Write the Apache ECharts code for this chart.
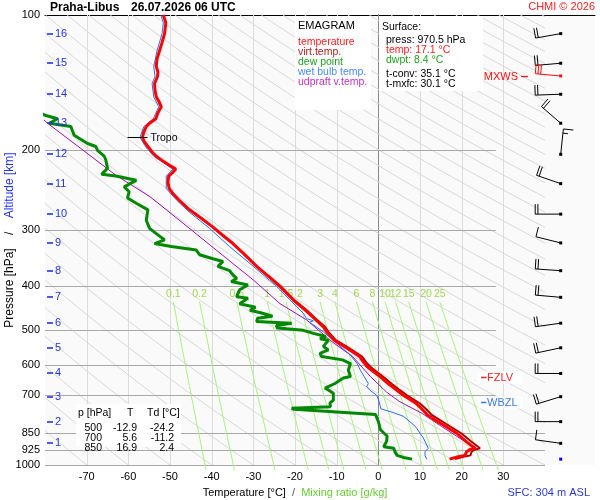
<!DOCTYPE html>
<html><head><meta charset="utf-8">
<script src="https://cdn.jsdelivr.net/npm/echarts@6/dist/echarts.min.js"></script>
<style>html,body{margin:0;padding:0;background:#fff}#c{width:600px;height:500px}</style>
</head><body><div id="c"></div>
<script>
// ---------- axis ticks ----------
const PRESSURE_TICKS = [100, 200, 300, 400, 500, 600, 700, 850, 925, 1000];
const TEMP_TICKS = [-70, -60, -50, -40, -30, -20, -10, 0, 10, 20, 30];
// ---------- altitude marks (km) and their pressure ----------
const ALT_KM = [1, 2, 3, 4, 5, 6, 7, 8, 9, 10, 11, 12, 13, 14, 15, 16];
const ALT_P = [895, 801, 705, 626, 549, 484, 424, 370, 321, 277, 237, 204, 174, 150, 128, 110];
// ---------- winds at each km ----------
const WIND_DIR = [278, 270, 253, 270, 258, 262, 275, 274, 284, 270, 289, 6, 311, 268, 265, 260];
const WIND_KT = [10, 20, 20, 20, 20, 20, 20, 20, 10, 20, 20, 15, 20, 20, 20, 20];
const MXWS_P = 136.6, MXWS_DIR = 275, MXWS_KT = 30;
const SFC_P = 970.5;
// ---------- reference lines ----------
const MIX_RATIOS = [0.1, 0.2, 0.5, 1, 1.5, 2, 3, 4, 6, 8, 10, 12, 15, 20, 25];
const DRY_ADIABATS = [-80, -70, -60, -50, -40, -30, -20, -10, 0, 10, 20, 30, 40, 50, 60, 70, 80, 90, 100,
  110, 120, 130, 140, 150, 160, 170, 180, 190, 200, 210, 220, 230, 240, 250, 260, 270, 280, 290, 300, 310, 320, 330, 340];
// ---------- sounding profiles [pressure hPa, °C] ----------
const TEMP = [[100,-51.6],[104,-51.0],[110,-51.3],[115,-51.9],[120,-52.5],[125,-53.1],[130,-53.3],[134,-52.9],[137,-53.0],
  [142,-53.7],[147,-53.6],[152,-53.3],[156,-52.6],[160,-52.1],[165,-52.9],[170,-53.4],[174,-54.9],[177,-55.7],[182,-56.3],
  [187,-56.6],[191,-56.2],[196,-55.3],[201,-54.4],[206,-53.3],[212,-51.4],[217,-49.7],[220,-48.6],[224,-49.4],[228,-50.3],
  [235,-50.5],[243,-50.2],[250,-49.2],[258,-47.8],[271,-45.3],[283,-42.5],[296,-39.7],[309,-37.3],[322,-34.9],[340,-32.2],
  [362,-29.2],[380,-26.5],[401,-23.6],[430,-20.4],[452,-17.6],[475,-15.1],[493,-13.2],[506,-12.4],[528,-10.6],[550,-7.5],
  [574,-4.5],[590,-3.6],[604,-2.7],[620,-1.2],[636,0.4],[660,2.4],[681,4.3],[700,6.0],[729,9.0],[750,10.4],[774,11.8],
  [795,13.7],[815,15.6],[850,18.8],[887,21.1],[918,23.2],[925,21.9],[934,21.2],[952,20.8],[960,18.9],[970.5,17.1]];
const VIRT_TEMP = [[380,-26.3],[401,-23.4],[430,-20.2],[452,-17.3],[475,-14.8],[493,-12.8],[506,-12.0],[528,-10.2],[550,-7.0],
  [574,-3.9],[590,-3.0],[604,-2.0],[620,-0.5],[636,1.1],[660,3.2],[681,5.1],[700,6.9],[729,9.9],[750,11.4],[774,12.8],
  [795,14.8],[815,16.7],[850,19.9],[887,22.3],[918,24.4],[925,23.1],[934,22.4],[952,22.1],[960,20.2],[970.5,18.4]];
const DEW_POINT = [[160,-84.0],[167,-80.0],[170,-77.0],[174,-79.0],[177,-73.8],[181,-73.4],[185,-73.0],[193,-69.8],[196,-67.8],
  [200,-67.4],[206,-65.8],[210,-65.4],[219,-65.0],[222,-65.6],[226,-66.4],[228,-63.0],[233,-58.1],[241,-61.0],[247,-59.8],
  [255,-60.2],[262,-58.1],[271,-55.3],[286,-55.7],[298,-54.9],[306,-53.3],[316,-51.3],[322,-53.7],[327,-49.7],[333,-43.7],
  [341,-42.9],[348,-39.7],[353,-37.3],[362,-38.5],[370,-35.7],[378,-34.9],[385,-34.0],[391,-35.3],[398,-31.3],[408,-33.3],
  [416,-33.7],[423,-34.0],[426,-31.3],[438,-33.3],[446,-29.5],[453,-30.8],[460,-27.8],[467,-25.4],[472,-29.0],[480,-29.2],
  [484,-20.8],[490,-24.5],[496,-24.2],[502,-18.0],[510,-15.6],[518,-12.6],[524,-14.0],[528,-12.0],[545,-13.2],[555,-12.0],
  [565,-14.0],[574,-13.6],[584,-8.6],[595,-6.7],[616,-7.2],[636,-6.7],[641,-8.4],[659,-10.4],[675,-12.8],[681,-12.0],
  [693,-10.8],[718,-10.8],[728,-11.6],[742,-11.5],[748,-20.8],[752,-20.2],[772,-0.7],[800,0.0],[835,0.5],[862,2.1],
  [885,2.0],[911,1.3],[918,3.7],[935,4.0],[952,4.5],[962,6.0],[970.5,8.1]];
const WET_BULB = [[100,-52.2],[104,-51.6],[110,-51.9],[120,-53.1],[130,-53.9],[137,-53.6],[142,-54.3],[152,-53.9],[160,-52.7],
  [170,-54.0],[177,-56.3],[187,-57.2],[196,-55.9],[206,-53.9],[217,-50.3],[220,-49.3],[228,-50.9],[243,-50.9],[258,-48.4],
  [274,-45.4],[298,-40.5],[327,-35.7],[362,-30.0],[388,-26.2],[401,-24.4],[429,-21.3],[460,-18.0],[473,-17.2],[478,-15.6],
  [482,-16.6],[488,-15.6],[506,-13.2],[536,-10.0],[570,-6.7],[595,-5.1],[616,-4.3],[659,-2.4],[670,-2.8],[681,-2.1],
  [700,-0.4],[723,0.2],[750,0.6],[766,3.8],[780,6.1],[821,8.9],[871,10.8],[918,12.0],[934,11.2],[952,11.2],[970.5,11.6]];
const PARCEL = [[140,-90.0],[174,-79.4],[198,-71.4],[227,-63.0],[253,-54.9],[290,-46.9],[333,-38.9],[388,-30.0],[438,-23.6],
  [476,-17.2],[528,-11.6],[574,-6.2],[636,-1.9],[689,2.0],[722,5.0],[768,10.5],[821,15.2],[880,20.2],[918,23.6]];
const TROPO = [-56.6, 186.7];
const LEVEL_NAMES = ['FZLV', 'WBZL'];
const LEVEL_P = [636.5, 723];
const TABLE_P = ['500', '700', '850'];
const TABLE_T = ['-12.9', '5.6', '16.9'];
const TABLE_TD = ['-24.2', '-11.2', '2.4'];

// ---------- chart ----------
const FONT = '"Liberation Sans", Arial, sans-serif';
const f = (s, b) => (b ? 'bold ' : '') + s + 'px ' + FONT;
const chart = echarts.init(document.getElementById('c'), null, {renderer: 'canvas', width: 600, height: 500});
const swap = arr => arr.map(d => [d[1], d[0]]);
const BARB_X = 0.314;
const LEVEL_COLORS = ['#ff2020', '#3a7ae8'];

function txt(text, x, y, color, size, bold, align) {
  return {type: 'text', x: x, y: y, z: 60,
    style: {text: text, fill: color || '#000', font: f(size || 10.5, bold), verticalAlign: 'middle', align: align || 'left'}};
}
const graphics = [
  txt('Praha-Libus', 50, 8, '#000', 12, true),
  txt('26.07.2026 06 UTC', 131, 8, '#000', 12, true),
  txt('CHMI © 2026', 595, 7, '#ff2020', 11, false, 'right'),
  txt('SFC: 304 m ASL', 590, 493, '#2a3ae0', 11, false, 'right'),
  {type: 'rect', z: 55, shape: {x: 295, y: 16, width: 76, height: 94}, style: {fill: '#fff'}},
  txt('EMAGRAM', 298, 26, '#000', 11),
  txt('temperature', 298, 41.7, '#ff2020'),
  txt('virt.temp.', 298, 51.7, '#b02020'),
  txt('dew point', 298, 61.7, '#20a020'),
  txt('wet bulb temp.', 298, 71.7, '#4a8af0'),
  txt('udpraft v.temp.', 298, 81.7, '#c030c0'),
  {type: 'rect', z: 55, shape: {x: 379, y: 16, width: 104, height: 75}, style: {fill: '#fff'}},
  txt('Surface:', 382, 27.3),
  txt('press: 970.5 hPa', 386, 40),
  txt('temp: 17.1 °C', 386, 50, '#ff2020'),
  txt('dwpt: 8.4 °C', 386, 60, '#20a020'),
  txt('t-conv: 35.1 °C', 386, 74.3),
  txt('t-mxfc: 30.1 °C', 386, 84.3),
  {type: 'rect', z: 55, shape: {x: 76, y: 404, width: 105, height: 43}, style: {fill: '#fff'}},
  txt('p [hPa]', 78, 413),
  txt('T', 127, 413),
  txt('Td [°C]', 147, 413)
];
TABLE_P.forEach((p, i) => {
  const y = 428 + i * 10;
  graphics.push(txt(p, 102, y, '#000', 10.5, false, 'right'));
  graphics.push(txt(TABLE_T[i], 137, y, '#000', 10.5, false, 'right'));
  graphics.push(txt(TABLE_TD[i], 174, y, '#000', 10.5, false, 'right'));
});

function lineSeries(name, data, color, width, z) {
  return {name: name, type: 'line', xAxisIndex: 0, yAxisIndex: 0, data: swap(data), showSymbol: false, symbol: 'none',
    lineStyle: {color: color, width: width}, silent: true, clip: true, z: z};
}

const option = {
  animation: false,
  backgroundColor: '#fff',
  textStyle: {fontFamily: FONT},
  grid: [
    {left: 45, top: 15, width: 500, height: 450, show: true, backgroundColor: '#fafafa', borderWidth: 0, containLabel: false, outerBoundsMode: 'none'},
    {left: 545, top: 15, width: 50, height: 450, show: true, backgroundColor: '#fafafa', borderWidth: 0, containLabel: false, outerBoundsMode: 'none'}
  ],
  xAxis: [
    {gridIndex: 0, type: 'value', min: -80, max: 40, interval: 10, position: 'bottom',
      axisLine: {show: false}, axisTick: {show: false}, splitLine: {show: false},
      axisLabel: {customValues: TEMP_TICKS, color: '#000', fontSize: 11, margin: 6, fontFamily: FONT},
      name: '{t|Temperature [°C]}  /  {m|Mixing ratio [g/kg]}', nameLocation: 'middle', nameGap: 22,
      nameTextStyle: {fontSize: 11, fontFamily: FONT, rich: {t: {color: '#000', fontSize: 11, fontFamily: FONT}, m: {color: '#66cc33', fontSize: 11, fontFamily: FONT}}}},
    {gridIndex: 0, type: 'value', min: -80, max: 40, position: 'top', axisLine: {show: true, lineStyle: {color: '#000', width: 1}},
      axisTick: {show: false}, axisLabel: {show: false}, splitLine: {show: false}},
    {gridIndex: 1, type: 'value', min: 0, max: 1, position: 'top', axisLine: {show: true, lineStyle: {color: '#000', width: 1}},
      axisTick: {show: false}, axisLabel: {show: false}, splitLine: {show: false}}
  ],
  yAxis: [
    {gridIndex: 0, type: 'log', logBase: 10, min: 100, max: 1000, inverse: true,
      axisLine: {show: true, lineStyle: {color: '#000', width: 1}}, axisTick: {show: false}, splitLine: {show: false},
      axisLabel: {customValues: PRESSURE_TICKS, color: '#000', fontSize: 11, margin: 5, fontFamily: FONT, formatter: v => String(Math.round(v))},
      name: '{p|Pressure [hPa]}    /    {a|Altitude [km]}', nameLocation: 'middle', nameRotate: 90, nameGap: 29, nameMoveOverlap: false,
      nameTextStyle: {fontSize: 12, fontFamily: FONT, rich: {p: {color: '#000', fontSize: 12, fontFamily: FONT}, a: {color: '#2233ee', fontSize: 12, fontFamily: FONT}}}},
    {gridIndex: 1, type: 'log', logBase: 10, min: 100, max: 1000, inverse: true, show: false}
  ],
  graphic: graphics,
  series: [
    { // isotherm grid
      type: 'custom', xAxisIndex: 0, yAxisIndex: 0, z: 1, silent: true,
      data: TEMP_TICKS.map(t => [t, 500]),
      renderItem: (params, api) => {
        const t = api.value(0);
        const a = api.coord([t, 100]), b = api.coord([t, 1000]);
        const x = Math.round(a[0]) + 0.5;
        return {type: 'line', shape: {x1: x, y1: a[1], x2: x, y2: b[1]},
          style: {stroke: t === 0 ? '#8a8a8a' : '#dcdcdc', lineWidth: 1}};
      }
    },
    { // dry adiabats
      type: 'custom', xAxisIndex: 0, yAxisIndex: 0, z: 1, silent: true, clip: true,
      data: DRY_ADIABATS.map(th => [th, 500]),
      renderItem: (params, api) => {
        const thK = api.value(0) + 273.15;
        const pts = [];
        for (let i = 0; i <= 40; i++) {
          const p = 100 * Math.pow(10, i / 40);
          pts.push(api.coord([thK * Math.pow(p / 1000, 0.2857) - 273.15, p]));
        }
        return {type: 'polyline', shape: {points: pts}, style: {stroke: '#d8d8d8', lineWidth: 1, fill: 'none'}};
      }
    },
    { // isobars
      type: 'custom', xAxisIndex: 0, yAxisIndex: 0, z: 2, silent: true,
      data: PRESSURE_TICKS.filter(p => p > 100).map(p => [p >= 850 ? 40 : 28.2, p]),
      renderItem: (params, api) => {
        const p = api.value(1);
        const a = api.coord([-80, p]), b = api.coord([api.value(0), p]);
        const y = Math.round(a[1]) + 0.5;
        return {type: 'line', shape: {x1: a[0], y1: y, x2: b[0], y2: y}, style: {stroke: '#a9a9a9', lineWidth: 1}};
      }
    },
    { // mixing ratio lines
      type: 'custom', xAxisIndex: 0, yAxisIndex: 0, z: 2, silent: true, clip: false,
      data: MIX_RATIOS.map(w => [w, 500]),
      renderItem: (params, api) => {
        const w = api.value(0);
        const pts = [];
        for (let i = 0; i <= 20; i++) {
          const p = 434 + (1025 - 434) * i / 20;
          const e = w * p / (622 + w);
          const L = Math.log(e / 6.112);
          pts.push(api.coord([243.5 * L / (17.67 - L), p]));
        }
        return {type: 'group', children: [
          {type: 'polyline', shape: {points: pts}, style: {stroke: '#a8f280', lineWidth: 1, fill: 'none'}},
          {type: 'text', x: pts[0][0], y: pts[0][1] - 8, style: {text: String(w), fill: '#9fd655', font: f(10.5), align: 'center', verticalAlign: 'middle'}}
        ]};
      }
    },
    lineSeries('udpraft v.temp.', PARCEL, '#a010b0', 1, 3),
    lineSeries('wet bulb temp.', WET_BULB, '#2a6df0', 1, 4),
    lineSeries('dew point', DEW_POINT, '#008800', 3, 5),
    lineSeries('virt.temp.', VIRT_TEMP, '#b00000', 2, 6),
    lineSeries('temperature', TEMP, '#ff0000', 3, 7),
    { // altitude marks
      type: 'custom', xAxisIndex: 0, yAxisIndex: 0, z: 8, silent: true,
      data: ALT_P.map((p, i) => [-80, p, ALT_KM[i]]),
      renderItem: (params, api) => {
        const c = api.coord([-80, api.value(1)]);
        const y = Math.round(c[1]);
        return {type: 'group', children: [
          {type: 'line', shape: {x1: c[0] + 2, y1: y, x2: c[0] + 8, y2: y}, style: {stroke: '#2233ee', lineWidth: 1.6}},
          {type: 'text', x: c[0] + 10, y: y, style: {text: String(api.value(2)), fill: '#2233ee', font: f(11), verticalAlign: 'middle'}}
        ]};
      }
    },
    { // tropopause mark
      type: 'custom', xAxisIndex: 0, yAxisIndex: 0, z: 8, silent: true,
      data: [TROPO],
      renderItem: (params, api) => {
        const c = api.coord([api.value(0), api.value(1)]);
        const y = Math.round(c[1]) + 0.5;
        return {type: 'group', children: [
          {type: 'line', shape: {x1: c[0] - 15, y1: y, x2: c[0] + 5, y2: y}, style: {stroke: '#000', lineWidth: 1}},
          {type: 'text', x: c[0] + 8, y: y + 1, style: {text: 'Tropo', fill: '#000', font: f(10.5), verticalAlign: 'middle'}}
        ]};
      }
    },
    { // freezing / wet bulb zero levels
      type: 'custom', xAxisIndex: 0, yAxisIndex: 0, z: 9, silent: true,
      data: LEVEL_P.map((p, i) => [40, p, i]),
      renderItem: (params, api) => {
        const c = api.coord([40, api.value(1)]);
        const i = api.value(2);
        const col = LEVEL_COLORS[i];
        const y = Math.round(c[1]) + 0.5;
        return {type: 'group', children: [
          {type: 'rect', shape: {x: c[0] - 67, y: y - 6, width: 45, height: 12}, style: {fill: '#fff'}},
          {type: 'line', shape: {x1: c[0] - 64, y1: y, x2: c[0] - 58.5, y2: y}, style: {stroke: col, lineWidth: 1.5}},
          {type: 'text', x: c[0] - 58, y: y, style: {text: LEVEL_NAMES[i], fill: col, font: f(11), verticalAlign: 'middle'}}
        ]};
      }
    },
    { // wind barbs
      type: 'custom', xAxisIndex: 2, yAxisIndex: 1, z: 8, silent: true, clip: false,
      data: ALT_P.map((p, i) => [BARB_X, p, WIND_DIR[i], WIND_KT[i], 0])
        .concat([[BARB_X, MXWS_P, MXWS_DIR, MXWS_KT, 1], [BARB_X, SFC_P, 0, 0, 2]]),
      renderItem: (params, api) => {
        const c = api.coord([api.value(0), api.value(1)]);
        const dir = api.value(2), kt = api.value(3), kind = api.value(4);
        const col = kind === 1 ? '#ff1010' : (kind === 2 ? '#0000ff' : '#000');
        const x0 = c[0], y0 = c[1];
        const ch = [{type: 'rect', shape: {x: x0 - 1.5, y: y0 - 1.5, width: 3, height: 3}, style: {fill: col}}];
        if (kt > 0) {
          const r = dir * Math.PI / 180;
          const dx = Math.sin(r), dy = -Math.cos(r);
          const L = 25.5;
          const tx = x0 + dx * L, ty = y0 + dy * L;
          ch.push({type: 'line', shape: {x1: x0, y1: y0, x2: tx, y2: ty}, style: {stroke: col, lineWidth: 1}});
          const bx = -dy, by = dx;
          let s = kt, k = 0;
          while (s >= 10) {
            const px = tx - dx * k * 2.7, py = ty - dy * k * 2.7;
            ch.push({type: 'line', shape: {x1: px, y1: py, x2: px + bx * 10, y2: py + by * 10}, style: {stroke: col, lineWidth: 1}});
            s -= 10; k++;
          }
          if (s >= 5) {
            const px = tx - dx * k * 2.7 - dx * 1.5, py = ty - dy * k * 2.7 - dy * 1.5;
            ch.push({type: 'line', shape: {x1: px, y1: py, x2: px + bx * 5, y2: py + by * 5}, style: {stroke: col, lineWidth: 1}});
          }
        }
        if (kind === 1) {
          const gx = api.coord([0, api.value(1)])[0];
          const y = Math.round(y0) + 0.5;
          ch.push({type: 'line', shape: {x1: gx - 24, y1: y, x2: gx - 17, y2: y}, style: {stroke: col, lineWidth: 1.2}});
          ch.push({type: 'text', x: gx - 27, y: y, style: {text: 'MXWS', fill: col, font: f(11), align: 'right', verticalAlign: 'middle'}});
        }
        return {type: 'group', children: ch};
      }
    }
  ]
};
chart.setOption(option);
</script></body></html>
